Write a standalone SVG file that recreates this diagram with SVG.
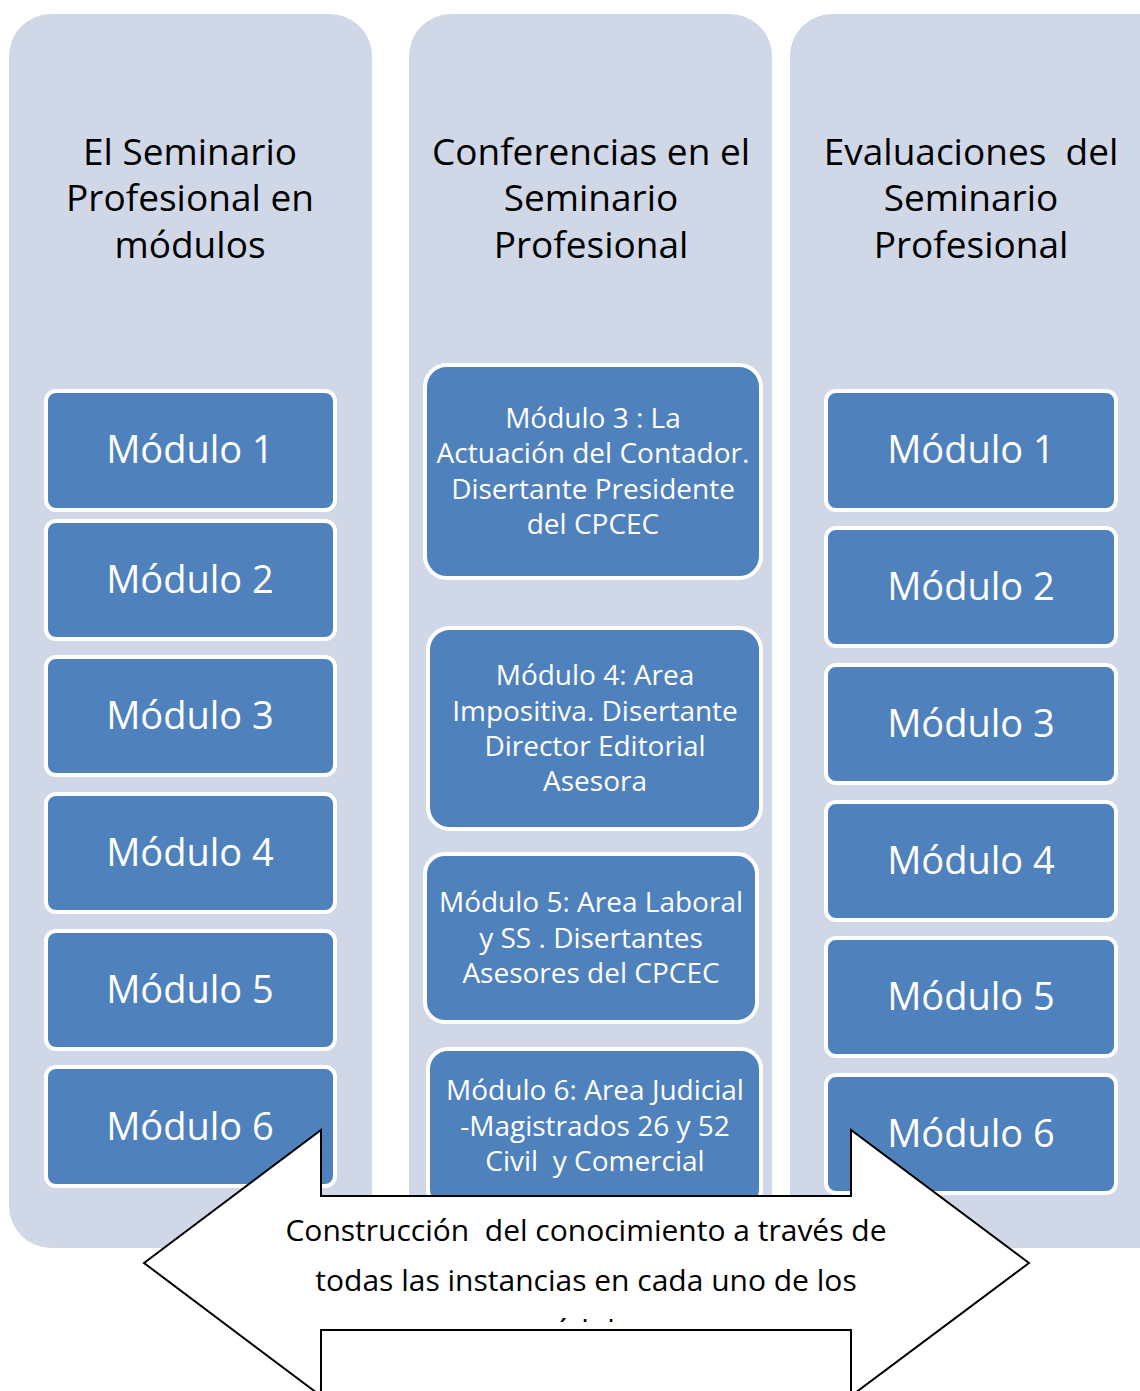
<svg xmlns="http://www.w3.org/2000/svg" width="1140" height="1391" viewBox="0 0 1140 1391">
<style>
.col{fill:#D0D8E8}
.box{fill:#4F81BD;stroke:#FFFFFF;stroke-width:4}
.ttl{font-family:"Open Sans","Liberation Sans",sans-serif;font-size:37px;fill:#000;text-anchor:middle}
.mod{font-family:"Open Sans","Liberation Sans",sans-serif;font-size:38px;fill:#FFF;text-anchor:middle}
.sm{font-family:"Open Sans","Liberation Sans",sans-serif;font-size:28px;fill:#FFF;text-anchor:middle}
.arr{fill:#FFF;stroke:#000;stroke-width:2}
.at{font-family:"Open Sans","Liberation Sans",sans-serif;font-size:30px;fill:#000;text-anchor:middle}
</style>
<defs>
<clipPath id="clipT"><rect x="250" y="1200" width="680" height="122"/></clipPath>
</defs>
<rect width="1140" height="1391" fill="#FFF"/>
<g id="col1">
<rect class="col" x="9" y="14" width="363" height="1234" rx="42"/>
<text class="ttl" x="190" y="165">El Seminario</text>
<text class="ttl" x="190" y="211">Profesional en</text>
<text class="ttl" x="190" y="258">módulos</text>
</g>
<g id="col2">
<rect class="col" x="409" y="14" width="363" height="1234" rx="42"/>
<text class="ttl" x="591" y="165">Conferencias en el</text>
<text class="ttl" x="591" y="211">Seminario</text>
<text class="ttl" x="591" y="258">Profesional</text>
</g>
<g id="col3">
<rect class="col" x="790" y="14" width="400" height="1234" rx="42"/>
<text class="ttl" x="971" y="165" xml:space="preserve">Evaluaciones  del</text>
<text class="ttl" x="971" y="211">Seminario</text>
<text class="ttl" x="971" y="258">Profesional</text>
</g>
<g id="l1"><rect class="box" x="46" y="391" width="289" height="119" rx="10"/><text class="mod" x="190" y="463">Módulo 1</text></g>
<g id="l2"><rect class="box" x="46" y="521" width="289" height="118" rx="10"/><text class="mod" x="190" y="593">Módulo 2</text></g>
<g id="l3"><rect class="box" x="46" y="657" width="289" height="118" rx="10"/><text class="mod" x="190" y="729">Módulo 3</text></g>
<g id="l4"><rect class="box" x="46" y="794" width="289" height="118" rx="10"/><text class="mod" x="190" y="866">Módulo 4</text></g>
<g id="l5"><rect class="box" x="46" y="931" width="289" height="118" rx="10"/><text class="mod" x="190" y="1003">Módulo 5</text></g>
<g id="l6"><rect class="box" x="46" y="1067" width="289" height="119" rx="10"/><text class="mod" x="190" y="1140">Módulo 6</text></g>
<g id="m1"><rect class="box" x="425" y="365" width="336" height="213" rx="22"/>
<text class="sm" x="593" y="428">Módulo 3 : La</text><text class="sm" x="593" y="463">Actuación del Contador.</text><text class="sm" x="593" y="499">Disertante Presidente</text><text class="sm" x="593" y="534">del CPCEC</text></g>
<g id="m2"><rect class="box" x="428" y="628" width="333" height="201" rx="22"/>
<text class="sm" x="595" y="685">Módulo 4: Area</text><text class="sm" x="595" y="721">Impositiva. Disertante</text><text class="sm" x="595" y="756">Director Editorial</text><text class="sm" x="595" y="791">Asesora</text></g>
<g id="m3"><rect class="box" x="425" y="854" width="332" height="168" rx="20"/>
<text class="sm" x="591" y="912">Módulo 5: Area Laboral</text><text class="sm" x="591" y="948">y SS . Disertantes</text><text class="sm" x="591" y="983">Asesores del CPCEC</text></g>
<g id="m4"><rect class="box" x="428" y="1049" width="333" height="160" rx="20"/>
<text class="sm" x="595" y="1100">Módulo 6: Area Judicial</text><text class="sm" x="595" y="1136">-Magistrados 26 y 52</text><text class="sm" x="595" y="1171" xml:space="preserve">Civil  y Comercial</text></g>
<g id="r1"><rect class="box" x="826" y="391" width="290" height="119" rx="10"/><text class="mod" x="971" y="463">Módulo 1</text></g>
<g id="r2"><rect class="box" x="826" y="528" width="290" height="118" rx="10"/><text class="mod" x="971" y="600">Módulo 2</text></g>
<g id="r3"><rect class="box" x="826" y="665" width="290" height="118" rx="10"/><text class="mod" x="971" y="737">Módulo 3</text></g>
<g id="r4"><rect class="box" x="826" y="802" width="290" height="118" rx="10"/><text class="mod" x="971" y="874">Módulo 4</text></g>
<g id="r5"><rect class="box" x="826" y="938" width="290" height="118" rx="10"/><text class="mod" x="971" y="1010">Módulo 5</text></g>
<g id="r6"><rect class="box" x="826" y="1075" width="290" height="118" rx="10"/><text class="mod" x="971" y="1147">Módulo 6</text></g>
<g id="arrow">
<polygon class="arr" points="144,1263 321,1130 321,1196 851,1196 851,1130 1029,1263 851,1396 851,1330 321,1330 321,1396"/>
<g clip-path="url(#clipT)">
<text class="at" x="586" y="1241" xml:space="preserve">Construcción  del conocimiento a través de</text>
<text class="at" x="586" y="1291">todas las instancias en cada uno de los</text>
<text class="at" x="586" y="1341">módulos</text>
</g>
</g>
</svg>
